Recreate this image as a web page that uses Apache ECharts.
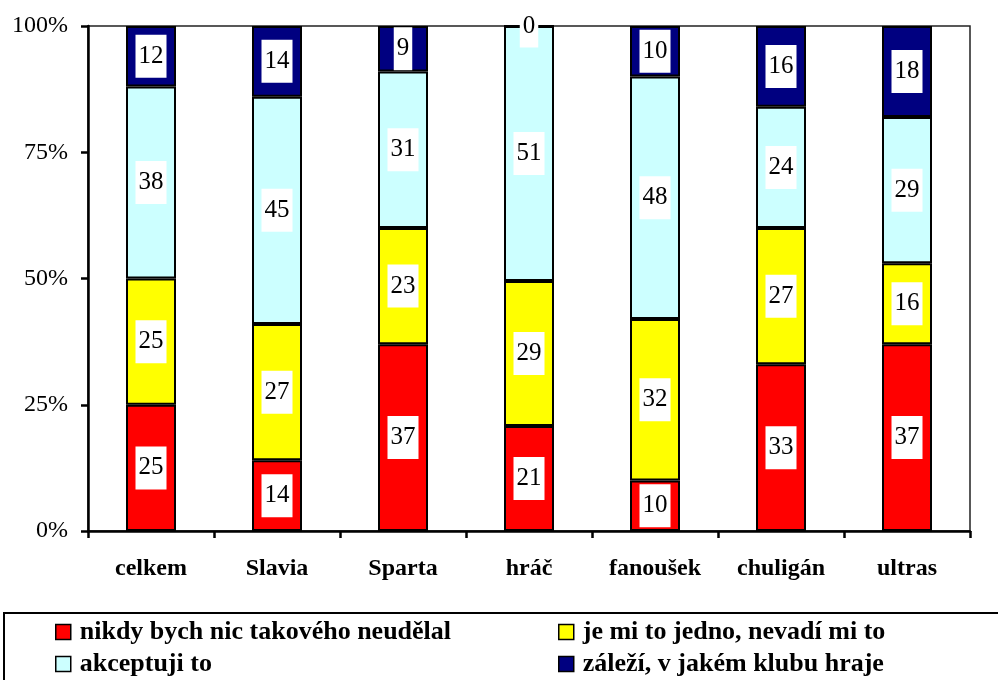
<!DOCTYPE html>
<html>
<head>
<meta charset="utf-8">
<script src="https://cdn.jsdelivr.net/npm/echarts@6/dist/echarts.min.js"></script>
<style>
  html, body { margin: 0; padding: 0; background: #fff; }
  #chart { width: 998px; height: 680px; }
</style>
</head>
<body>
<div id="chart"></div>
<script>
var categories = ['celkem', 'Slavia', 'Sparta', 'hráč', 'fanoušek', 'chuligán', 'ultras'];
var nikdy = [25, 14, 37, 21, 10, 33, 37];
var jedno = [25, 27, 23, 29, 32, 27, 16];
var akceptuji = [38, 45, 31, 51, 48, 24, 29];
var zalezi = [12, 14, 9, 0, 10, 16, 18];
var yTicks = [0, 25, 50, 75, 100];

var names = ['nikdy bych nic takového neudělal', 'je mi to jedno, nevadí mi to', 'akceptuji to', 'záleží, v jakém klubu hraje'];
var colors = ['#FF0000', '#FFFF00', '#CCFFFF', '#000080'];
var raw = [nikdy, jedno, akceptuji, zalezi];

var font = '"Liberation Serif", "Times New Roman", serif';

// soucty v kazde kategorii - sloupce jsou 100%
var totals = categories.map(function(c, i) {
    var s = 0;
    for (var k = 0; k < raw.length; k++) { s += raw[k][i]; }
    return s;
});

var series = raw.map(function(arr, k) {
    return {
        name: names[k],
        type: 'bar',
        stack: 'all',
        barWidth: 50,
        itemStyle: { color: colors[k], borderColor: '#000', borderWidth: 2 },
        label: {
            show: true,
            position: 'inside',
            formatter: function(p) { return '{v|' + arr[p.dataIndex] + '}'; },
            rich: {
                v: {
                    color: '#000',
                    fontFamily: font,
                    fontSize: 25,
                    lineHeight: 25,
                    backgroundColor: '#fff',
                    padding: [9, 3]
                }
            }
        },
        data: arr.map(function(v, i) { return v / totals[i] * 100; })
    };
});

var legendBase = {
    top: 619, height: 100, orient: 'vertical', padding: 0,
    itemWidth: 15, itemHeight: 15, itemGap: 6,
    icon: 'rect',
    itemStyle: { borderColor: '#000', borderWidth: 1.5 },
    textStyle: { color: '#000', fontFamily: font, fontWeight: 'bold', fontSize: 26, lineHeight: 25, padding: [0, 0, 0, 4] }
};

var chart = echarts.init(document.getElementById('chart'));
chart.setOption({
    animation: false,
    grid: {
        left: 88, right: 28, top: 26, bottom: 149,
        show: true, borderColor: '#222', borderWidth: 1.5
    },
    xAxis: {
        type: 'category',
        data: categories,
        axisLine: { lineStyle: { color: '#000', width: 2.5 } },
        axisTick: { show: true, length: 7, lineStyle: { color: '#000', width: 2.5 } },
        axisLabel: { color: '#000', fontFamily: font, fontWeight: 'bold', fontSize: 24, margin: 26 }
    },
    yAxis: {
        type: 'value',
        min: yTicks[0],
        max: yTicks[yTicks.length - 1],
        interval: 25,
        splitLine: { show: false },
        axisLine: { show: true, lineStyle: { color: '#000', width: 2.5 } },
        axisTick: { show: true, length: 7, lineStyle: { color: '#000', width: 2.5 } },
        axisLabel: { color: '#000', fontFamily: font, fontSize: 24, margin: 20, formatter: '{value}%' }
    },
    legend: [
        Object.assign({}, legendBase, { left: 55, data: [names[0], names[2]] }),
        Object.assign({}, legendBase, { left: 558, data: [names[1], names[3]] })
    ],
    graphic: [{
        type: 'rect',
        shape: { x: 4, y: 613, width: 996, height: 80 },
        style: { fill: 'none', stroke: '#000', lineWidth: 2 },
        silent: true
    }],
    series: series
});
</script>
</body>
</html>
